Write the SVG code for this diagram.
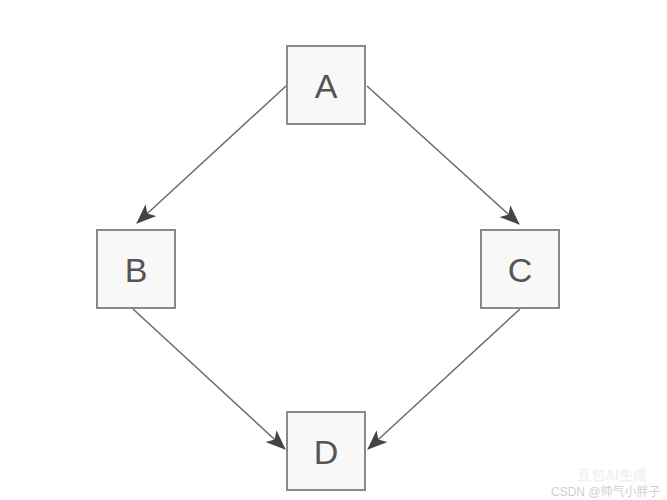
<svg xmlns="http://www.w3.org/2000/svg" width="667" height="500" viewBox="0 0 667 500">
<style>
.box{fill:#f8f8f8;stroke:#8a8a8a;stroke-width:2}
.lbl{font-family:"Liberation Sans",Arial,sans-serif;font-size:34px;fill:#555;text-anchor:middle;dominant-baseline:central}
.edge{stroke:#6a6a6a;stroke-width:1.5;fill:none;marker-end:url(#ah)}
.wm{font-family:"Liberation Sans","Noto Sans CJK SC",sans-serif;text-anchor:start}
</style>
<defs>
<marker id="ah" viewBox="0 0 20 16" refX="19" refY="8" markerWidth="20" markerHeight="16" markerUnits="userSpaceOnUse" orient="auto">
<path d="M0,0 L20,8 L0,16 L5,8 Z" fill="#444"/>
</marker>
</defs>
<rect width="667" height="500" fill="#ffffff"/>
<g id="connectors">
<path class="edge" d="M286,86 L137,223"/>
<path class="edge" d="M367,86 L519,224"/>
<path class="edge" d="M133,309 L285,449"/>
<path class="edge" d="M520,309 L368,449"/>
</g>
<g id="A"><rect class="box" x="287" y="46" width="78" height="78"/><text class="lbl" x="326" y="86">A</text></g>
<g id="B"><rect class="box" x="97" y="230" width="78" height="78"/><text class="lbl" x="136" y="270">B</text></g>
<g id="C"><rect class="box" x="481" y="230" width="78" height="78"/><text class="lbl" x="520" y="270">C</text></g>
<g id="D"><rect class="box" x="287" y="412" width="78" height="78"/><text class="lbl" x="326" y="452">D</text></g>
<g id="watermark">
<text class="wm" x="577" y="480" font-size="14" font-weight="bold" fill="#f2f2f2">豆包AI生成</text>
<text class="wm" x="551" y="496" font-size="12" fill="#d0d0d0">CSDN @帅气小胖子</text>
</g>
</svg>
